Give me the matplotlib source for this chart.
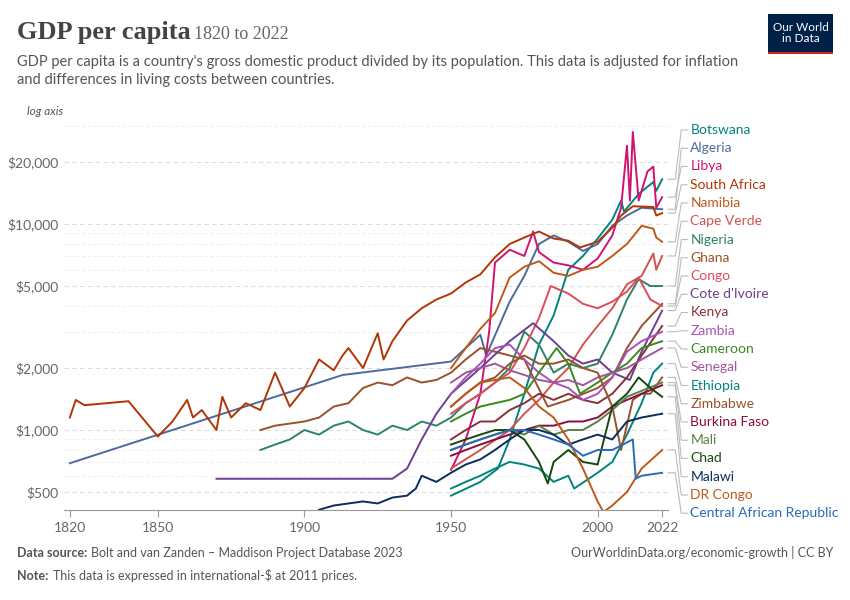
import numpy as np
import matplotlib.pyplot as plt
from matplotlib.ticker import FixedLocator, NullLocator

plt.rcParams['font.family'] = ['Lato', 'DejaVu Sans']

# ---- data (estimated from the chart) ----
names = ["Botswana", "Algeria", "Libya", "South Africa", "Namibia", "Cape Verde",
         "Nigeria", "Ghana", "Congo", "Cote d'Ivoire", "Kenya", "Zambia", "Cameroon",
         "Senegal", "Ethiopia", "Zimbabwe", "Burkina Faso", "Mali", "Chad", "Malawi",
         "DR Congo", "Central African Republic"]
colors = ["#00847e", "#4c6a9c", "#d0136f", "#b13507", "#c05917", "#d4534d",
          "#2c8465", "#9a5129", "#e04a5f", "#6d3e91", "#883039", "#a652ba", "#3a8a1e",
          "#a2559c", "#00847e", "#9a5129", "#8c0b3e", "#578145", "#18470f", "#0a2d5c",
          "#c05917", "#286bbb"]

years = {
 "Botswana": [1950, 1960, 1966, 1970, 1975, 1980, 1985, 1990, 1995, 2000, 2005, 2008, 2009, 2014, 2019, 2020, 2022],
 "Algeria": [1820, 1913, 1950, 1955, 1960, 1962, 1970, 1975, 1980, 1985, 1990, 1995, 2000, 2005, 2010, 2015, 2022],
 "Libya": [1950, 1955, 1960, 1963, 1965, 1970, 1975, 1978, 1980, 1985, 1990, 1995, 2000, 2005, 2008, 2010, 2011, 2012, 2014, 2017, 2019, 2020, 2022],
 "South Africa": [1820, 1822, 1825, 1840, 1850, 1855, 1860, 1862, 1865, 1870, 1872, 1875, 1880, 1885, 1890, 1895, 1900, 1905, 1910, 1913, 1915, 1920, 1925, 1927, 1930, 1935, 1940, 1945, 1950, 1955, 1960, 1965, 1970, 1975, 1980, 1985, 1990, 1994, 2000, 2005, 2008, 2012, 2019, 2020, 2022],
 "Namibia": [1950, 1955, 1960, 1965, 1970, 1975, 1980, 1985, 1990, 1995, 2000, 2005, 2010, 2015, 2019, 2020, 2022],
 "Cape Verde": [1950, 1960, 1970, 1975, 1980, 1985, 1990, 1995, 2000, 2005, 2010, 2015, 2019, 2020, 2022],
 "Nigeria": [1885, 1890, 1895, 1900, 1905, 1910, 1915, 1920, 1925, 1930, 1935, 1940, 1945, 1950, 1955, 1960, 1965, 1970, 1975, 1980, 1985, 1990, 1995, 2000, 2005, 2010, 2014, 2018, 2022],
 "Ghana": [1885, 1890, 1900, 1905, 1910, 1915, 1920, 1925, 1930, 1935, 1940, 1945, 1950, 1955, 1960, 1965, 1970, 1975, 1983, 1990, 2000, 2005, 2010, 2015, 2022],
 "Congo": [1950, 1955, 1960, 1965, 1970, 1975, 1980, 1984, 1990, 1995, 2000, 2005, 2010, 2014, 2018, 2022],
 "Cote d'Ivoire": [1870, 1890, 1910, 1930, 1935, 1940, 1945, 1950, 1960, 1970, 1978, 1985, 1990, 1995, 2000, 2005, 2011, 2015, 2022],
 "Kenya": [1950, 1955, 1960, 1965, 1970, 1975, 1980, 1985, 1990, 1995, 2000, 2005, 2010, 2015, 2022],
 "Zambia": [1950, 1955, 1960, 1965, 1970, 1975, 1980, 1985, 1990, 1995, 2000, 2005, 2010, 2015, 2022],
 "Cameroon": [1950, 1955, 1960, 1965, 1970, 1975, 1980, 1986, 1990, 1994, 2000, 2005, 2010, 2015, 2022],
 "Senegal": [1950, 1955, 1960, 1965, 1970, 1975, 1980, 1985, 1990, 1995, 2000, 2005, 2010, 2015, 2022],
 "Ethiopia": [1950, 1955, 1960, 1965, 1970, 1975, 1980, 1985, 1990, 1992, 2000, 2005, 2010, 2015, 2019, 2022],
 "Zimbabwe": [1950, 1955, 1960, 1965, 1970, 1975, 1980, 1985, 1990, 1995, 2000, 2005, 2008, 2012, 2015, 2018, 2022],
 "Burkina Faso": [1950, 1955, 1960, 1965, 1970, 1975, 1980, 1985, 1990, 1995, 2000, 2005, 2010, 2015, 2022],
 "Mali": [1950, 1955, 1960, 1965, 1970, 1975, 1980, 1985, 1990, 1995, 2000, 2005, 2010, 2015, 2022],
 "Chad": [1950, 1955, 1960, 1965, 1970, 1975, 1980, 1983, 1985, 1990, 1995, 2000, 2005, 2010, 2014, 2018, 2022],
 "Malawi": [1905, 1910, 1915, 1920, 1925, 1930, 1935, 1938, 1940, 1945, 1950, 1955, 1960, 1965, 1970, 1975, 1980, 1985, 1990, 1995, 2000, 2005, 2010, 2015, 2022],
 "DR Congo": [1950, 1955, 1960, 1965, 1970, 1975, 1980, 1985, 1990, 1995, 2000, 2002, 2005, 2010, 2015, 2022],
 "Central African Republic": [1950, 1955, 1960, 1965, 1970, 1975, 1980, 1985, 1990, 1995, 2000, 2005, 2012, 2013, 2015, 2022],
}
gdp = {
 "Botswana": [480, 560, 650, 900, 1500, 2600, 3600, 6000, 7000, 8500, 10500, 13000, 11500, 14000, 16000, 14500, 16500],
 "Algeria": [690, 1850, 2150, 2500, 2900, 2300, 4200, 5600, 8000, 8800, 8200, 7400, 8000, 9800, 11000, 12000, 11800],
 "Libya": [640, 900, 1500, 3000, 6500, 7500, 7000, 9200, 7300, 6500, 6300, 6000, 6800, 8800, 12000, 24000, 13000, 28000, 13000, 18000, 19000, 12000, 13500],
 "South Africa": [1150, 1400, 1320, 1380, 930, 1100, 1400, 1150, 1250, 1000, 1450, 1150, 1350, 1250, 1900, 1300, 1600, 2200, 1950, 2300, 2500, 2000, 2950, 2200, 2700, 3400, 3900, 4300, 4600, 5200, 5700, 6900, 8000, 8600, 9200, 8500, 8300, 7700, 8200, 9600, 11000, 12200, 12100, 11000, 11300],
 "Namibia": [2000, 2500, 3100, 3700, 5500, 6200, 6600, 5800, 5600, 6000, 6200, 7000, 8000, 9800, 9500, 8600, 8200],
 "Cape Verde": [650, 800, 1000, 1200, 1400, 1700, 2000, 2600, 3200, 3900, 5100, 5600, 7200, 6000, 7000],
 "Nigeria": [800, 850, 900, 1000, 950, 1050, 1100, 1000, 950, 1050, 1000, 1100, 1050, 1150, 1350, 1500, 1700, 2000, 3000, 2600, 1900, 2100, 2000, 2100, 2900, 4300, 5400, 5000, 5000],
 "Ghana": [1000, 1050, 1100, 1150, 1300, 1350, 1600, 1700, 1650, 1800, 1700, 1750, 1900, 2200, 2500, 2400, 2300, 2200, 1300, 1400, 1600, 1800, 2500, 3200, 4100],
 "Congo": [1200, 1350, 1500, 1700, 1900, 2500, 3500, 5000, 4600, 4100, 3900, 4200, 4700, 5500, 4300, 4000],
 "Cote d'Ivoire": [580, 580, 580, 580, 650, 900, 1200, 1500, 2000, 2700, 3300, 2700, 2300, 2100, 2200, 1900, 1750, 2400, 3800],
 "Kenya": [900, 1000, 1100, 1100, 1250, 1350, 1500, 1400, 1500, 1400, 1350, 1500, 1800, 2300, 3200],
 "Zambia": [1500, 1800, 2100, 2500, 2600, 2200, 1900, 1700, 1600, 1400, 1500, 1800, 2400, 2700, 3000],
 "Cameroon": [1100, 1200, 1300, 1350, 1400, 1500, 1900, 2500, 2100, 1500, 1700, 1900, 2100, 2500, 2700],
 "Senegal": [1700, 1900, 2000, 2100, 1950, 1850, 1750, 1700, 1750, 1650, 1800, 1900, 2000, 2200, 2500],
 "Ethiopia": [520, 560, 600, 650, 700, 680, 650, 560, 600, 520, 620, 700, 950, 1350, 1900, 2100],
 "Zimbabwe": [1300, 1500, 1700, 1800, 2100, 2300, 2100, 2100, 2200, 2000, 1900, 1300, 800, 1400, 1500, 1500, 1800],
 "Burkina Faso": [750, 800, 850, 900, 950, 1000, 1050, 1050, 1100, 1100, 1150, 1300, 1400, 1500, 1650],
 "Mali": [800, 850, 900, 950, 1000, 950, 1050, 950, 1000, 1000, 1100, 1250, 1450, 1550, 1700],
 "Chad": [850, 900, 950, 1000, 1000, 900, 700, 550, 700, 800, 700, 680, 1300, 1500, 1800, 1600, 1450],
 "Malawi": [410, 430, 440, 450, 440, 470, 480, 520, 600, 560, 620, 680, 720, 800, 900, 1000, 1000, 950, 850, 900, 950, 900, 1100, 1150, 1200],
 "DR Congo": [1300, 1500, 1700, 1750, 1800, 1600, 1300, 1150, 900, 650, 450, 400, 430, 500, 650, 800],
 "Central African Republic": [800, 850, 900, 950, 1000, 1000, 950, 900, 850, 750, 800, 800, 900, 580, 600, 620],
}

fig = plt.figure(figsize=(8.5, 6), dpi=100)
ax = fig.add_axes([64 / 850, 90 / 600, 604 / 850, 390 / 600])
ax.set_yscale('log')
ax.set_xlim(1818, 2024)
ax.set_ylim(409, 32000)

for n, c in zip(names, colors):
    ax.plot(years[n], gdp[n], color=c, lw=1.4, solid_joinstyle='round')

yt = [500, 1000, 2000, 5000, 10000, 20000]
ax.yaxis.set_major_locator(FixedLocator(yt))
ax.yaxis.set_minor_locator(NullLocator())
ax.set_yticks(yt)
ax.set_yticklabels(['$500', '$1,000', '$2,000', '$5,000', '$10,000', '$20,000'])
for v in [600, 700, 800, 900, 3000, 4000, 6000, 7000, 8000, 9000, 30000]:
    ax.axhline(v, color='#ececec', lw=0.6, ls=(0, (4, 3)), zorder=0)
ax.grid(axis='y', color='#dddddd', lw=0.8, ls=(0, (4, 3)), zorder=0)
ax.set_xticks([1820, 1850, 1900, 1950, 2000, 2022])
ax.tick_params(axis='y', length=0, labelsize=10, colors='#666666', pad=4)
ax.tick_params(axis='x', length=5, color='#999999', labelsize=10, labelcolor='#666666')
for s in ['top', 'right', 'left']:
    ax.spines[s].set_visible(False)
ax.spines['bottom'].set_color('#999999')

# right-hand labels with connectors
for i, (n, c) in enumerate(zip(names, colors)):
    ly = 130 + i * 18.25
    yfrac = ((600 - ly) - 90) / 390
    xe = ax.transData.transform((2022, gdp[n][-1]))
    yend = ax.transAxes.inverted().transform(xe)[1]
    ax.plot([1.0, 1.012, 1.022, 1.032], [yend, yend, yfrac, yfrac], transform=ax.transAxes,
            color='#bbbbbb', lw=0.8, clip_on=False)
    ax.text(1.037, yfrac, n, transform=ax.transAxes, color=c, fontsize=10, va='center')

fig.text(0.02, 0.945, 'GDP per capita', fontsize=19, family=['Liberation Serif', 'DejaVu Serif'],
         fontweight='bold', color='#444444', va='center')
fig.text(0.228, 0.943, '1820 to 2022', fontsize=13, family=['Liberation Serif', 'DejaVu Serif'],
         color='#666666', va='center')
fig.text(0.02, 0.882, "GDP per capita is a country's gross domestic product divided by its population. This data is adjusted for inflation\nand differences in living costs between countries.",
         fontsize=10.5, color='#555555', va='center', linespacing=1.35)
fig.text(0.032, 0.815, 'log axis', fontsize=8.5, color='#555555', style='italic', va='center')

# logo
fig.patches.append(plt.Rectangle((768 / 850, 1 - 52 / 600), 65 / 850, 38 / 600, transform=fig.transFigure,
                                 facecolor='#002147', edgecolor='none'))
fig.patches.append(plt.Rectangle((768 / 850, 1 - 54 / 600), 65 / 850, 2.5 / 600, transform=fig.transFigure,
                                 facecolor='#ce261e', edgecolor='none'))
fig.text(800.5 / 850, 1 - 33 / 600, 'Our World\nin Data', color='white', fontsize=8.5, ha='center',
         va='center', linespacing=1.1)

fig.text(0.02, 0.072, 'Data source:', fontsize=9, color='#555555', fontweight='bold')
fig.text(0.107, 0.072, 'Bolt and van Zanden – Maddison Project Database 2023', fontsize=9, color='#555555')
fig.text(0.98, 0.072, 'OurWorldinData.org/economic-growth | CC BY', fontsize=9, color='#555555', ha='right')
fig.text(0.02, 0.033, 'Note:', fontsize=9, color='#555555', fontweight='bold')
fig.text(0.062, 0.033, 'This data is expressed in international-$ at 2011 prices.', fontsize=9, color='#555555')

fig.savefig('out.png', dpi=100, facecolor='white')
